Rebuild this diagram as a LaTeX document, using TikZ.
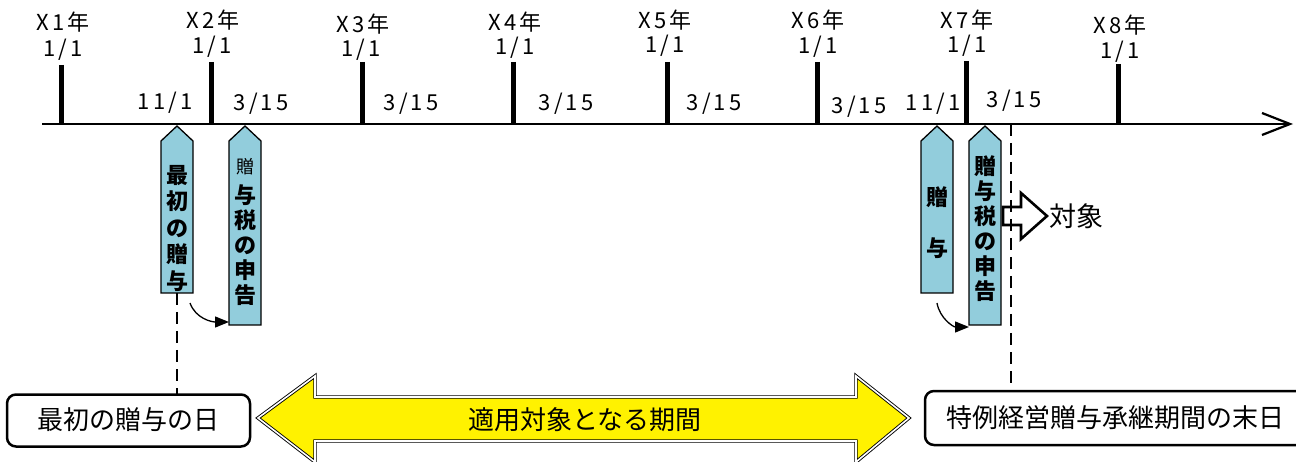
\documentclass[tikz,border=0pt]{standalone}
\usepackage{fontspec}
\setmainfont{Noto Sans CJK JP}
\newfontfamily\datef[LetterSpace=14]{Noto Sans CJK JP}
\usetikzlibrary{arrows.meta}
\begin{document}
\begin{tikzpicture}[x=1pt,y=-1pt,
  tick/.style={line width=5pt},
  yr/.style={font=\datef\fontsize{22}{22}\selectfont,inner sep=0pt},
  dt/.style={font=\datef\fontsize{22}{22}\selectfont,inner sep=0pt},
  blue/.style={draw=black,line width=1.3pt,fill={rgb,255:red,146;green,205;blue,220}},
  vt/.style={font=\bfseries\fontsize{22}{26.5}\selectfont,align=center,inner sep=0pt},
  vt2/.style={font=\bfseries\fontsize{22}{25}\selectfont,align=center,inner sep=0pt},
  dsh/.style={line width=1.4pt,dash pattern=on 12pt off 7pt},
  box/.style={draw=black,line width=2.5pt,rounded corners=9pt,fill=white},
  bt/.style={font=\fontsize{26}{28}\selectfont,inner sep=0pt},
  curv/.style={line width=1.3pt,-{Triangle[length=14pt,width=11pt]}}
]
\useasboundingbox (0,0) rectangle (1296,462);
% timeline
\coordinate (tl0) at (42,124);
\coordinate (tl1) at (1290,124);
\draw[line width=2.2pt] (tl0) -- (tl1);
\draw[line width=2.2pt] (1262,113) -- (tl1) -- (1262,135);
% ticks
\foreach \x/\t [count=\i] in {61/65,211/62,362/62,513/62,667/62,817/62,966/61,1118/64}{
  \draw[tick] (\x,\t) -- (\x,124);
}
% year labels
\node[yr] (y1) at (63,22) {X1年};   \node[yr] (d1) at (63,50) {1/1};
\node[yr] (y2) at (213,20) {X2年};  \node[yr] (d2) at (212,47) {1/1};
\node[yr] (y3) at (363,24) {X3年};  \node[yr] (d3) at (361,50) {1/1};
\node[yr] (y4) at (515,22) {X4年};  \node[yr] (d4) at (515,48) {1/1};
\node[yr] (y5) at (665,20) {X5年};  \node[yr] (d5) at (665,46) {1/1};
\node[yr] (y6) at (818,20) {X6年};  \node[yr] (d6) at (818,47) {1/1};
\node[yr] (y7) at (967,20) {X7年};  \node[yr] (d7) at (967,46) {1/1};
\node[yr] (y8) at (1120,25) {X8年}; \node[yr] (d8) at (1120,52) {1/1};
% dates
\node[dt] (a1) at (165,103) {11/1};
\node[dt] (a2) at (261,104) {3/15};
\node[dt] (a3) at (411,104) {3/15};
\node[dt] (a4) at (566,104) {3/15};
\node[dt] (a5) at (714,104) {3/15};
\node[dt] (a6) at (859,107) {3/15};
\node[dt] (a7) at (933,104) {11/1};
\node[dt] (a8) at (1014,101) {3/15};
% dashed lines
\coordinate (dA) at (177,395);
\coordinate (dB0) at (1011,124);
\coordinate (dB) at (1011,388);
% blue arrows
\draw[blue] (161,293) -- (161,141) -- (177,126) -- (193,141) -- (193,293) -- cycle;
\draw[blue] (229,325) -- (229,141) -- (245,126) -- (261,141) -- (261,325) -- cycle;
\draw[blue] (921,293) -- (921,141) -- (937,126) -- (953,141) -- (953,293) -- cycle;
\draw[blue] (969,325) -- (969,141) -- (985,126) -- (1001,141) -- (1001,325) -- cycle;
\coordinate (b1) at (177,293);
\node[vt,anchor=north] (t1) at (177,165) {最\\初\\の\\贈\\与};
\node[font=\fontsize{18}{18}\selectfont,inner sep=0pt] (t2a) at (245,167) {贈};
\node[vt2,anchor=north] (t2) at (245,184) {与\\税\\の\\申\\告};
\node[vt] (t3a) at (937,197) {贈};
\node[vt] (t3b) at (937,248) {与};
\node[vt2,anchor=north] (t4) at (985,155) {贈\\与\\税\\の\\申\\告};
\draw[dsh] (b1) -- (dA);
\draw[dsh] (dB0) -- (dB);
% curved arrows
\coordinate (c1s) at (190,303);
\coordinate (c1e) at (229,322);
\draw[curv] (c1s) to[out=-70,in=180] (c1e);
\coordinate (c2s) at (937,303);
\coordinate (c2e) at (969,327);
\draw[curv] (c2s) to[out=-80,in=180] (c2e);
% hollow arrow
\draw[line width=2.6pt,line join=miter] (1003,207) -- (1021,207) -- (1021,193) -- (1047,216) -- (1021,239) -- (1021,225) -- (1003,225) -- cycle;
\node[bt,anchor=west,font=\fontsize{27}{28}\selectfont] (tg) at (1049,216) {対象};
% boxes
\node[box,minimum width=243pt,minimum height=52pt,inner sep=0pt] (bx1) at (128.5,420.5) {};
\node[bt] (bx1t) at (128,420) {最初の贈与の日};
\draw[box] (925,391) rectangle (1310,445);
\node[bt,anchor=west] (bx2t) at (946,418) {特例経営贈与承継期間の末日};
% yellow double arrow
\draw[line width=0.9pt,draw=black,double=white,double distance=1.6pt,fill=yellow,line join=miter]
  (258,418) -- (315,376) -- (315,397) -- (856,397) -- (856,376) -- (909,418) -- (856,462) -- (856,441) -- (315,441) -- (315,462) -- cycle;
\node[bt] (ya) at (585,420) {適用対象となる期間};
\end{tikzpicture}
\end{document}
